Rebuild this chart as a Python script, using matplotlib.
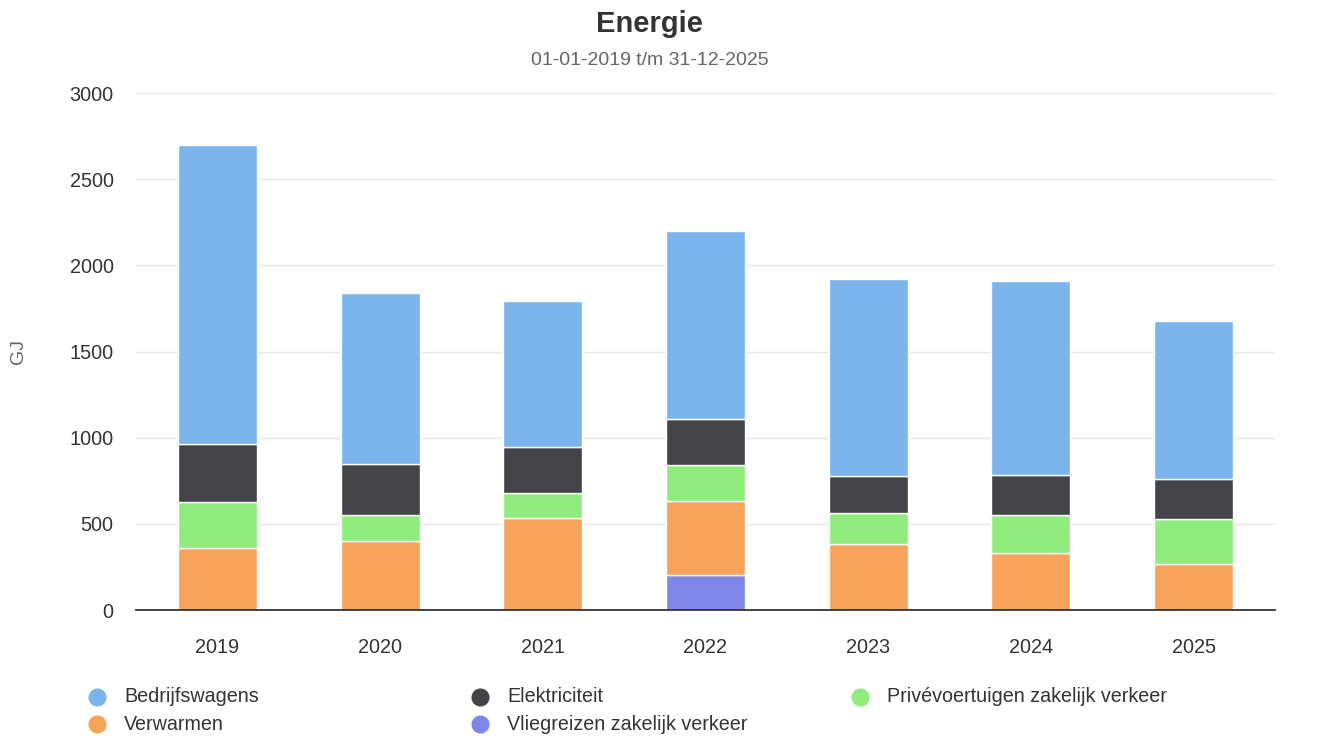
import numpy as np
import matplotlib
matplotlib.use("Agg")
from matplotlib import pyplot as plt
from matplotlib.lines import Line2D

# gegevens (GJ)
jaren = ['2019', '2020', '2021', '2022', '2023', '2024', '2025']
bedrijfswagens = [1736, 988, 851, 1090, 1143, 1125, 916]
elektriciteit = [339, 296, 266, 269, 214, 232, 234]
privevoertuigen = [268, 153, 145, 207, 180, 224, 259]
verwarmen = [358, 400, 534, 429, 383, 329, 267]
vliegreizen = [0, 0, 0, 203, 0, 0, 0]

namen = ['Bedrijfswagens', 'Elektriciteit', 'Privévoertuigen zakelijk verkeer',
         'Verwarmen', 'Vliegreizen zakelijk verkeer']
kleuren = ['#7cb5ec', '#434348', '#90ed7d', '#f7a35c', '#8085e9']
series = [bedrijfswagens, elektriciteit, privevoertuigen, verwarmen, vliegreizen]

plt.rcParams['font.family'] = ['Liberation Sans', 'DejaVu Sans']

fig = plt.figure(figsize=(13.33, 7.37), dpi=100)
ax = fig.add_axes([0.102, 0.1723, 0.8545, 0.7015])

x = np.arange(len(jaren))
# stapelen van onder naar boven (laatste serie onderaan)
onder = np.zeros(len(jaren))
for naam, kleur, waarden in reversed(list(zip(namen, kleuren, series))):
  w = np.array(waarden, dtype=float)
  ax.bar(x, w, 0.485, bottom=onder, color=kleur, edgecolor='white',
         linewidth=1, zorder=3)
  onder += w

ax.set_xlim(-0.5, len(jaren) - 0.5)
ax.set_ylim(0, 3000)
ax.set_yticks(np.arange(0, 3001, 500))
ax.set_xticks(x)
ax.set_xticklabels(jaren)
ax.grid(axis='y', color='#e6e6e6', linewidth=1, zorder=0)
ax.set_axisbelow(True)
for s in ['top', 'right', 'left']:
  ax.spines[s].set_visible(False)
ax.spines['bottom'].set_color('#333333')
ax.spines['bottom'].set_linewidth(1.3)
ax.spines['bottom'].set_zorder(4)
ax.tick_params(axis='both', length=0, labelsize=14.3, labelcolor='#333333')
ax.tick_params(axis='x', pad=20)
ax.tick_params(axis='y', pad=16)
ax.set_ylabel('GJ', color='#666666', fontsize=14)
ax.yaxis.set_label_coords(-0.096, 0.5)

fig.text(0.4875, 0.967, 'Energie', ha='center', va='center', fontsize=21,
         fontweight='bold', color='#333333')
fig.text(0.4875, 0.918, '01-01-2019 t/m 31-12-2025', ha='center', va='center',
         fontsize=14, color='#666666')

# legenda in drie kolommen
kol_x = [97, 480, 860]
rij_y = [697, 724]
for i, (naam, kleur) in enumerate(zip(namen, kleuren)):
  px = kol_x[i % 3]
  py = rij_y[i // 3]
  fx = px / 1333
  fy = 1 - py / 737
  fig.add_artist(Line2D([fx], [fy], marker='o', markersize=12,
                        color=kleur, linestyle='none',
                        transform=fig.transFigure))
  fig.text(fx + 27 / 1333, fy, naam, ha='left', va='center',
           fontsize=14.2, color='#333333')

fig.savefig('out.png', dpi=100)
